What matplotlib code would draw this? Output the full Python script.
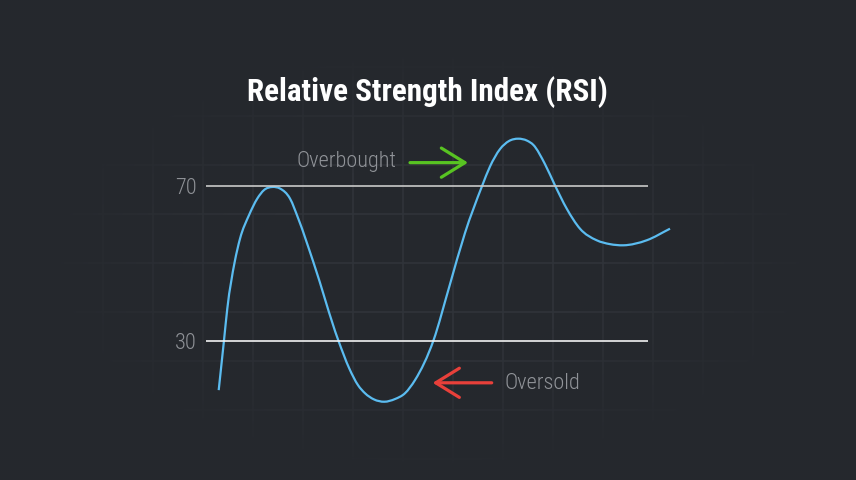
import numpy as np
import matplotlib
matplotlib.use('Agg')
import matplotlib.pyplot as plt
from matplotlib.path import Path
from matplotlib.patches import PathPatch

# RSI curve (period, value)
period = [0.00, 0.53, 0.86, 1.60, 2.13, 3.03, 3.86, 4.53, 5.36,
          6.13, 7.13, 7.96, 9.46, 11.96, 13.06, 13.93, 14.63, 15.53, 16.56,
          17.63, 18.63, 19.63, 21.48, 23.06, 24.63, 26.33, 27.13, 28.13, 29.03, 29.96,
          30.83, 31.46, 32.63, 33.63, 34.80, 36.13, 37.80, 39.13, 40.46, 42.80, 45.13]
rsi = [17.2, 30.1, 38.3, 50.4, 56.4, 62.5, 66.8, 69.0, 69.8,
       69.4, 66.8, 61.6, 50.4, 30.1, 22.8, 18.5, 16.4, 14.8, 14.2,
       14.9, 16.4, 19.8, 30.1, 44.0, 57.9, 70.0, 75.1, 79.6, 81.7, 82.3,
       81.8, 80.7, 75.7, 70.2, 64.2, 59.0, 56.0, 55.0, 54.7, 56.0, 59.0]
levels = [70, 30]
level_labels = ['70', '30']

bg = '#25282d'
font = ['Noto Sans Condensed', 'Roboto Condensed', 'DejaVu Sans Condensed', 'Noto Sans']

fig = plt.figure(figsize=(8.56, 4.8), dpi=100, facecolor=bg)

# background grid, fading out towards the edges
bgax = fig.add_axes([0, 0, 1, 1])
bgax.set_xlim(0, 856)
bgax.set_ylim(480, 0)
bgax.set_facecolor(bg)
for gx in range(3, 856, 50):
    bgax.axvline(gx, color='#30343a', lw=1.2, zorder=1)
for gy in range(18, 480, 49):
    bgax.axhline(gy, color='#30343a', lw=1.2, zorder=1)
xx, yy = np.meshgrid(np.linspace(0, 856, 428), np.linspace(0, 480, 240))
r = np.sqrt(((xx - 430) / 390) ** 2 + ((yy - 260) / 215) ** 2)
overlay = np.zeros(xx.shape + (4,))
overlay[..., :3] = matplotlib.colors.to_rgb(bg)
overlay[..., 3] = np.clip((r - 0.45) / 0.55, 0, 1)
bgax.imshow(overlay, extent=(0, 856, 480, 0), aspect='auto', zorder=2, interpolation='bilinear')
bgax.axis('off')

# main chart
ax = fig.add_axes([206 / 856, 60 / 480, 442 / 856, 300 / 480])
ax.set_facecolor('none')
ax.set_xlim(-1.27, 42.93)
ax.set_ylim(9.47, 87.14)
for s in ax.spines.values():
    s.set_visible(False)
ax.set_xticks([])
ax.set_yticks(levels)
ax.set_yticklabels(level_labels, family=font, fontstretch='condensed', fontweight='light',
                   fontsize=16, color='#8e9196')
ax.tick_params(axis='y', length=0, pad=7)

ax.axhline(70, color='#c9c9c9', lw=1.2)
ax.axhline(30, color='#f2f2f2', lw=1.2)

# smooth line through the read points (cubic hermite drawn as bezier segments)
x = np.array(period)
y = np.array(rsi)
h = np.diff(x)
d = np.diff(y) / h
m = np.empty_like(y)
m[1:-1] = (d[:-1] * h[1:] + d[1:] * h[:-1]) / (h[:-1] + h[1:])
m[0] = d[0]
m[-1] = d[-1]
verts = [(x[0], y[0])]
codes = [Path.MOVETO]
for i in range(len(x) - 1):
    verts += [(x[i] + h[i] / 3, y[i] + m[i] * h[i] / 3),
              (x[i + 1] - h[i] / 3, y[i + 1] - m[i + 1] * h[i] / 3),
              (x[i + 1], y[i + 1])]
    codes += [Path.CURVE4] * 3
ax.add_patch(PathPatch(Path(verts, codes), fill=False, ec='#5bbcf0', lw=1.6, clip_on=False))

fig.text(427 / 856, 1 - 92 / 480, 'Relative Strength Index (RSI)', family=font,
         fontstretch='condensed', fontsize=22.4, fontweight='bold', color='white',
         ha='center', va='center')

ax.text(17.72, 76.4, 'Overbought', family=font, fontstretch='condensed', fontweight='light',
        fontsize=16, color='#909398', ha='right', va='center')
ax.text(28.53, 19.0, 'Oversold', family=font, fontstretch='condensed', fontweight='light',
        fontsize=16, color='#909398', ha='left', va='center')
ax.annotate('', xy=(24.93, 76.1), xytext=(19.13, 76.1),
            arrowprops=dict(arrowstyle='->, head_length=17, head_width=10.5', mutation_scale=1,
                            color='#58c322', lw=2.3, shrinkA=0, shrinkB=0))
ax.annotate('', xy=(21.4, 19.1), xytext=(27.3, 19.1),
            arrowprops=dict(arrowstyle='->, head_length=17, head_width=10.5', mutation_scale=1,
                            color='#e8403a', lw=2.3, shrinkA=0, shrinkB=0))

fig.savefig('out.png', dpi=100, facecolor=bg)
